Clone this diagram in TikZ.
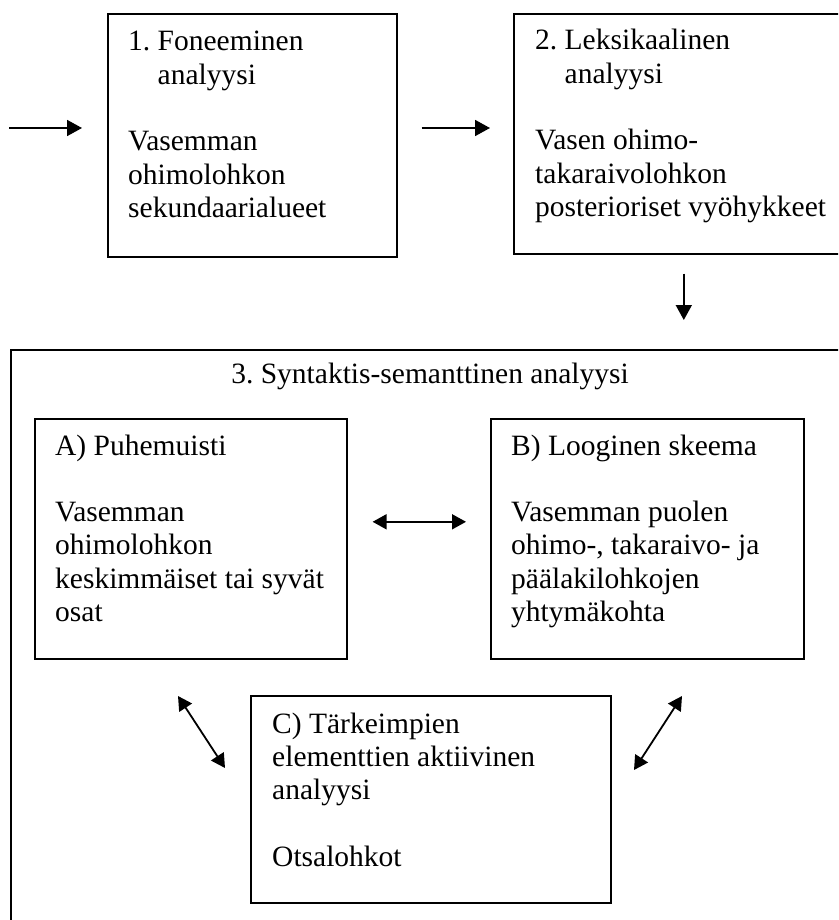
\documentclass[tikz,border=0pt]{standalone}
\usepackage{fontspec}
\setmainfont{Liberation Serif}
\usetikzlibrary{arrows.meta}
\begin{document}
\begin{tikzpicture}[x=1pt,y=-1pt,
  box/.style={draw,line width=1.6pt,inner sep=0pt,anchor=north west},
  txt/.style={inner sep=0pt,anchor=base west,font=\fontsize{29.5}{33.3}\selectfont\frenchspacing},
  ttl/.style={inner sep=0pt,anchor=base,font=\fontsize{29.5}{33.3}\selectfont\frenchspacing},
  arr/.style={line width=1.8pt,-{Triangle[length=15pt,width=16pt]}},
  darr/.style={line width=1.8pt,{Triangle[length=14pt,width=15pt]}-{Triangle[length=14pt,width=15pt]}}]
\clip (0,0) rectangle (838,920);
% boxes
\node[box,minimum width=289pt,minimum height=243pt] (b1) at (107,13) {};
\node[box,minimum width=340pt,minimum height=240pt] (b2) at (513,13) {};
\node[box,minimum width=850pt,minimum height=600pt] (big) at (10,349) {};
\node[box,minimum width=312pt,minimum height=240pt] (bA) at (34,418) {};
\node[box,minimum width=313pt,minimum height=240pt] (bB) at (490,418) {};
\node[box,minimum width=360pt,minimum height=207pt] (bC) at (250,695) {};
% texts
\node[txt] (t1) at (128,51) {\parbox[t]{400pt}{\raggedright 1. Foneeminen\\\hphantom{1. }analyysi\\[33.3pt]Vasemman\\ohimolohkon\\sekundaarialueet}};
\node[txt] (t2) at (535,50) {\parbox[t]{400pt}{\raggedright 2. Leksikaalinen\\\hphantom{2. }analyysi\\[33.3pt]Vasen ohimo-\\takaraivolohkon\\posterioriset vyöhykkeet}};
\node[ttl] (t3) at (430,383) {3. Syntaktis-semanttinen analyysi};
\node[txt] (tA) at (55,455) {\parbox[t]{400pt}{\raggedright A) Puhemuisti\\[33.3pt]Vasemman\\ohimolohkon\\keskimmäiset tai syvät\\osat}};
\node[txt] (tB) at (511,455) {\parbox[t]{400pt}{\raggedright B) Looginen skeema\\[33.3pt]Vasemman puolen\\ohimo-, takaraivo- ja\\päälakilohkojen\\yhtymäkohta}};
\node[txt] (tC) at (272,733) {\parbox[t]{400pt}{\raggedright C) Tärkeimpien\\elementtien aktiivinen\\analyysi\\[33.3pt]Otsalohkot}};
% connectors
\coordinate (in) at (9,128);
\draw[arr,shorten >=25pt] (in) -- (in -| b1.west);
\draw[arr,shorten <=24pt,shorten >=23pt] (in -| b1.east) -- (in -| b2.west);
\draw[arr,shorten <=19pt,shorten >=29pt] (b2.south) -- (b2.south |- big.north);
\draw[darr,shorten <=25pt,shorten >=24pt] ([yshift=17pt]bA.east) -- ([yshift=17pt]bB.west);
\coordinate (dl1) at (178,696);
\coordinate (dl2) at (225,768);
\coordinate (dr1) at (682,696);
\coordinate (dr2) at (634,770);
\draw[darr] (dl1) -- (dl2);
\draw[darr] (dr1) -- (dr2);
\end{tikzpicture}
\end{document}
